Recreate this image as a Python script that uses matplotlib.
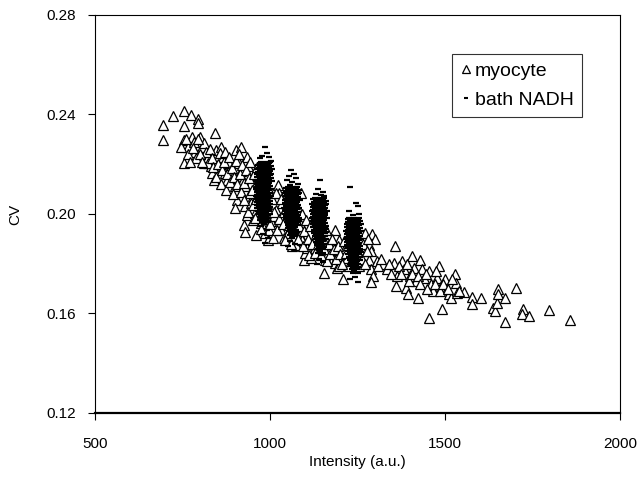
import matplotlib
matplotlib.use("Agg")
import matplotlib.pyplot as plt
from matplotlib.lines import Line2D

plt.rcParams['font.family'] = ['Liberation Sans', 'DejaVu Sans']

# ---------------- data ----------------
myocyte_pts = [
    (693, 0.2358), (693, 0.2298), (724, 0.2394), (753, 0.2414), (753, 0.2354),
    (775, 0.2397), (793, 0.2382), (793, 0.2365), (753, 0.2298), (753, 0.2204),
    (766, 0.2271), (777, 0.2311), (783, 0.2291), (786, 0.2251), (789, 0.2224),
    (800, 0.2311), (806, 0.2271), (843, 0.2325), (812, 0.2204), (824, 0.2231),
    (830, 0.2191), (835, 0.2164), (841, 0.2138), (847, 0.2258), (859, 0.2271),
    (865, 0.2231), (865, 0.2191), (870, 0.2164), (876, 0.2138), (882, 0.2204),
    (888, 0.2178), (894, 0.2151), (899, 0.2111), (903, 0.2258), (917, 0.2271),
    (911, 0.2204), (917, 0.2171), (923, 0.2138), (929, 0.2111), (934, 0.2231),
    (938, 0.2191), (905, 0.2057), (899, 0.2024), (929, 0.2031), (934, 0.1997),
    (926, 0.1957), (929, 0.1928), (961, 0.1917), (952, 0.2071), (958, 0.2111),
    (964, 0.2164), (943, 0.2084), (947, 0.2044), (958, 0.2004), (952, 0.1977),
    (975, 0.1964), (987, 0.1924), (993, 0.1897), (998, 0.1937), (1004, 0.1971),
    (1010, 0.1991), (1016, 0.2017), (1022, 0.2117), (1027, 0.2084), (1033, 0.2044),
    (1033, 0.1991), (1031, 0.1937), (1039, 0.1904), (1045, 0.1964), (1051, 0.1924),
    (1062, 0.1870), (1074, 0.1877), (1086, 0.1917), (1092, 0.1897), (1086, 0.1964),
    (1089, 0.2084), (1096, 0.1817), (1100, 0.1844), (1106, 0.1864), (1118, 0.1824),
    (1129, 0.1864), (1138, 0.1844), (1153, 0.1764), (1156, 0.1817), (1167, 0.1844),
    (1173, 0.1864), (1179, 0.1824), (1185, 0.1804), (1191, 0.1784), (1196, 0.1790),
    (1208, 0.1737), (1191, 0.1831), (1185, 0.1937), (1196, 0.1897), (1214, 0.1864),
    (1220, 0.1824), (1226, 0.1790), (1272, 0.1924), (1292, 0.1920), (1301, 0.1900),
    (1283, 0.1877), (1289, 0.1850), (1283, 0.1817), (1289, 0.1777), (1295, 0.1750),
    (1289, 0.1727), (1306, 0.1810), (1324, 0.1797), (1333, 0.1777), (1357, 0.1870),
    (1354, 0.1804), (1362, 0.1750), (1359, 0.1710), (1377, 0.1810), (1383, 0.1777),
    (1389, 0.1704), (1394, 0.1677), (1400, 0.1750), (1406, 0.1830), (1412, 0.1784),
    (1418, 0.1730), (1424, 0.1664), (1429, 0.1817), (1435, 0.1777), (1441, 0.1744),
    (1453, 0.1770), (1455, 0.1581), (1459, 0.1717), (1465, 0.1690), (1476, 0.1744),
    (1482, 0.1790), (1488, 0.1710), (1491, 0.1619), (1499, 0.1737), (1505, 0.1697),
    (1511, 0.1677), (1517, 0.1664), (1529, 0.1757), (1532, 0.1724), (1535, 0.1684),
    (1555, 0.1686), (1578, 0.1667), (1578, 0.1637), (1604, 0.1661), (1636, 0.1624),
    (1644, 0.1610), (1648, 0.1644), (1652, 0.1697), (1652, 0.1677), (1672, 0.1661),
    (1672, 0.1566), (1702, 0.1702), (1724, 0.1617), (1720, 0.1597), (1741, 0.1590),
    (1796, 0.1613), (1858, 0.1574),
    (812, 0.2285), (818, 0.2250), (822, 0.2205), (828, 0.2260), (835, 0.2225),
    (838, 0.2190), (845, 0.2150), (852, 0.2200), (856, 0.2245), (860, 0.2120),
    (862, 0.2175), (868, 0.2210), (872, 0.2250), (875, 0.2095), (878, 0.2160),
    (884, 0.2230), (886, 0.2130), (890, 0.2185), (895, 0.2080), (897, 0.2150),
    (902, 0.2215), (906, 0.2120), (910, 0.2240), (914, 0.2160), (918, 0.2090),
    (921, 0.2195), (925, 0.2055), (927, 0.2125), (932, 0.2175), (936, 0.2010),
    (940, 0.2145), (944, 0.2210), (948, 0.2095), (950, 0.2035), (955, 0.2160),
    (958, 0.1985), (961, 0.2060), (963, 0.2190), (967, 0.2120), (970, 0.2020),
    (973, 0.1940), (978, 0.2080), (982, 0.2150), (985, 0.1995), (990, 0.2040),
    (995, 0.2105), (1000, 0.1960), (1005, 0.2060), (1008, 0.1905), (1012, 0.2010),
    (1018, 0.2085), (1020, 0.1935), (1025, 0.1980), (1030, 0.2060), (1036, 0.1960),
    (1040, 0.2010), (1044, 0.1895), (1048, 0.2040), (1053, 0.1955), (1058, 0.2000),
    (1060, 0.1880), (1064, 0.2050), (1068, 0.1930), (1072, 0.1985), (1078, 0.2030),
    (1080, 0.1900), (1084, 0.1950), (1090, 0.2000), (1095, 0.1870), (1098, 0.1930),
    (1102, 0.1975), (1108, 0.1900), (1112, 0.1835), (1115, 0.1950), (1120, 0.1880),
    (1125, 0.1985), (1128, 0.1845), (1132, 0.1920), (1136, 0.1880), (1142, 0.1960),
    (1145, 0.1835), (1150, 0.1900), (1155, 0.1860), (1160, 0.1935), (1163, 0.1810),
    (1168, 0.1880), (1172, 0.1840), (1176, 0.1900), (1182, 0.1860), (1188, 0.1820),
    (1194, 0.1870), (1200, 0.1840), (1205, 0.1800), (1210, 0.1890), (1216, 0.1845),
    (1222, 0.1875), (1230, 0.1810), (1236, 0.1860), (1242, 0.1830), (1248, 0.1880),
    (1254, 0.1790), (1258, 0.1850), (1262, 0.1820), (1266, 0.1880), (1270, 0.1800),
    (1276, 0.1850), (1280, 0.1900), (1310, 0.1790), (1318, 0.1820), (1340, 0.1800),
    (1345, 0.1760), (1370, 0.1790), (1375, 0.1760), (1392, 0.1800), (1398, 0.1730),
    (1405, 0.1760), (1422, 0.1750), (1430, 0.1720), (1445, 0.1760), (1448, 0.1700),
    (1470, 0.1720), (1474, 0.1770), (1485, 0.1690), (1495, 0.1720), (1508, 0.1700),
    (1520, 0.1740), (1540, 0.1690),
    (745, 0.2270), (760, 0.2300), (765, 0.2240), (770, 0.2210), (780, 0.2265),
    (795, 0.2300), (800, 0.2240), (805, 0.2210),
]

# bath NADH clusters: rows of (CV, [intensities at that CV])
bath1_rows = [
    (0.2270, [985]), (0.2245, [990]), (0.2235, [978]), (0.2228, [996]),
    (0.2225, [972]), (0.2215, [1002]),
    (0.2210, [975, 990, 1000]), (0.2204, [970, 984, 998]), (0.2198, [966, 980, 995]),
    (0.2192, [972, 988, 1004]), (0.2186, [968, 982, 997]), (0.2180, [964, 978, 992, 1005]),
    (0.2174, [970, 986, 1000]), (0.2168, [966, 981, 996]), (0.2162, [962, 976, 990, 1004]),
    (0.2156, [968, 984, 999]), (0.2150, [964, 979, 994]), (0.2144, [970, 986, 1002]),
    (0.2138, [965, 980, 996]), (0.2132, [961, 975, 990, 1005]), (0.2126, [968, 983, 998]),
    (0.2120, [963, 978, 993]), (0.2114, [969, 985, 1001]), (0.2108, [964, 980, 995]),
    (0.2102, [960, 975, 990, 1004]), (0.2096, [967, 982, 997]), (0.2090, [962, 977, 992]),
    (0.2084, [968, 984, 1000]), (0.2078, [963, 979, 994]), (0.2072, [959, 974, 989, 1003]),
    (0.2066, [966, 981, 996]), (0.2060, [961, 976, 991]), (0.2054, [967, 983, 999]),
    (0.2048, [962, 978, 993]), (0.2042, [968, 984, 1000]), (0.2036, [963, 979, 995]),
    (0.2030, [969, 985, 1001]), (0.2024, [964, 980, 996]), (0.2018, [970, 986]),
    (0.2012, [966, 982, 998]), (0.2006, [972, 988]), (0.2000, [968, 984, 1000]),
    (0.1994, [974, 990]), (0.1988, [970, 986]), (0.1982, [976, 992]),
    (0.1976, [972, 988]), (0.1968, [978, 994]), (0.1960, [983]), (0.1950, [975]),
    (0.1935, [990]), (0.1920, [980]), (0.1905, [995]), (0.1885, [985]),
]
bath2_rows = [
    (0.2175, [1060]), (0.2162, [1068]), (0.2152, [1054]), (0.2143, [1074]),
    (0.2135, [1049]), (0.2128, [1064]), (0.2120, [1080]), (0.2117, [1057]),
    (0.2110, [1050, 1065, 1078]), (0.2104, [1046, 1060, 1074]), (0.2098, [1052, 1067, 1082]),
    (0.2092, [1047, 1061, 1076]), (0.2086, [1043, 1056, 1070, 1084]), (0.2080, [1049, 1064, 1079]),
    (0.2074, [1045, 1059, 1073]), (0.2068, [1051, 1066, 1081]), (0.2062, [1046, 1061, 1076]),
    (0.2056, [1042, 1056, 1070, 1085]), (0.2050, [1048, 1063, 1078]), (0.2044, [1044, 1058, 1073]),
    (0.2038, [1050, 1065, 1080]), (0.2032, [1045, 1060, 1075]), (0.2026, [1041, 1055, 1069, 1084]),
    (0.2020, [1047, 1062, 1077]), (0.2014, [1043, 1057, 1072]), (0.2008, [1049, 1064, 1079]),
    (0.2002, [1044, 1059, 1074]), (0.1996, [1050, 1066, 1081]), (0.1990, [1046, 1061, 1076]),
    (0.1984, [1052, 1067, 1082]), (0.1978, [1047, 1062, 1077]), (0.1972, [1053, 1068, 1083]),
    (0.1966, [1048, 1063, 1078]), (0.1960, [1054, 1069]), (0.1954, [1050, 1065, 1080]),
    (0.1948, [1056, 1071]), (0.1942, [1052, 1067]), (0.1936, [1058, 1073]),
    (0.1930, [1054, 1069]), (0.1922, [1060, 1075]), (0.1914, [1056, 1070]),
    (0.1905, [1063]), (0.1890, [1058]), (0.1878, [1072]), (0.1870, [1050]),
]
bath3_rows = [
    (0.2137, [1143]), (0.2100, [1136]), (0.2090, [1150]), (0.2082, [1130]),
    (0.2075, [1145]), (0.2072, [1155]),
    (0.2066, [1128, 1142, 1155]), (0.2060, [1124, 1138, 1151]), (0.2054, [1130, 1145, 1159]),
    (0.2048, [1125, 1139, 1153]), (0.2042, [1121, 1134, 1148, 1161]), (0.2036, [1127, 1142, 1156]),
    (0.2030, [1123, 1137, 1151]), (0.2024, [1129, 1144, 1158]), (0.2018, [1124, 1139, 1153]),
    (0.2012, [1120, 1134, 1148, 1162]), (0.2006, [1126, 1141, 1156]), (0.2000, [1122, 1136, 1151]),
    (0.1994, [1128, 1143, 1158]), (0.1988, [1123, 1138, 1153]), (0.1982, [1119, 1133, 1147, 1162]),
    (0.1976, [1125, 1140, 1155]), (0.1970, [1121, 1135, 1150]), (0.1964, [1127, 1142, 1157]),
    (0.1958, [1122, 1137, 1152]), (0.1952, [1128, 1144, 1159]), (0.1946, [1124, 1139, 1154]),
    (0.1940, [1130, 1145, 1160]), (0.1934, [1125, 1140, 1155]), (0.1928, [1131, 1146, 1161]),
    (0.1922, [1126, 1141, 1156]), (0.1916, [1132, 1147]), (0.1910, [1128, 1143, 1158]),
    (0.1904, [1134, 1149]), (0.1898, [1130, 1145, 1159]), (0.1892, [1136, 1151]),
    (0.1886, [1132, 1147]), (0.1880, [1138, 1153]), (0.1874, [1134, 1149]),
    (0.1868, [1140, 1155]), (0.1860, [1136, 1150]), (0.1852, [1142]),
    (0.1844, [1138, 1152]), (0.1835, [1145]), (0.1820, [1140]), (0.1808, [1150]),
    (0.1800, [1133]),
]
bath4_rows = [
    (0.2108, [1228]), (0.2045, [1245]), (0.2033, [1250]), (0.2012, [1226]),
    (0.2002, [1254]), (0.1995, [1238]),
    (0.1985, [1226, 1240, 1253]), (0.1979, [1222, 1236, 1250]), (0.1973, [1228, 1243, 1257]),
    (0.1967, [1223, 1237, 1251]), (0.1961, [1219, 1232, 1246, 1259]), (0.1955, [1225, 1240, 1254]),
    (0.1949, [1221, 1235, 1249]), (0.1943, [1227, 1242, 1256]), (0.1937, [1222, 1237, 1251]),
    (0.1931, [1218, 1232, 1246, 1260]), (0.1925, [1224, 1239, 1254]), (0.1919, [1220, 1234, 1249]),
    (0.1913, [1226, 1241, 1256]), (0.1907, [1221, 1236, 1251]), (0.1901, [1217, 1231, 1245, 1260]),
    (0.1895, [1223, 1238, 1253]), (0.1889, [1219, 1233, 1248]), (0.1883, [1225, 1240, 1255]),
    (0.1877, [1220, 1235, 1250]), (0.1871, [1226, 1242, 1257]), (0.1865, [1222, 1237, 1252]),
    (0.1859, [1228, 1243, 1258]), (0.1853, [1223, 1238, 1253]), (0.1847, [1229, 1244, 1259]),
    (0.1841, [1224, 1239, 1254]), (0.1835, [1230, 1245]), (0.1829, [1226, 1241, 1256]),
    (0.1823, [1232, 1247]), (0.1817, [1228, 1243, 1257]), (0.1811, [1234, 1249]),
    (0.1805, [1230, 1245]), (0.1799, [1236, 1251]), (0.1793, [1232, 1247]),
    (0.1787, [1238, 1252]), (0.1779, [1234, 1248]), (0.1771, [1240]),
    (0.1763, [1236, 1250]), (0.1748, [1242]), (0.1738, [1228]), (0.1725, [1252]),
]

x_ticks = [500, 1000, 1500, 2000]
y_ticks = [0.12, 0.16, 0.20, 0.24, 0.28]
y_tick_labels = ["0.12", "0.16", "0.20", "0.24", "0.28"]

# ---------------- figure ----------------
fig = plt.figure(figsize=(6.39, 4.86), dpi=100)
ax = fig.add_axes([95 / 639, 1 - 413 / 486, 525 / 639, 398 / 486])

mx = [p[0] for p in myocyte_pts]
my = [p[1] for p in myocyte_pts]
ax.plot(mx, my, linestyle='none', marker='^', markersize=7.4,
        markerfacecolor='white', markeredgecolor='black', markeredgewidth=0.9,
        zorder=2)

bx, by = [], []
for rows in (bath1_rows, bath2_rows, bath3_rows, bath4_rows):
    for yv, xs in rows:
        for xv in xs:
            bx.append(xv)
            by.append(yv)
ax.plot(bx, by, linestyle='none', marker='_', markersize=4.6,
        color='black', markeredgewidth=1.6, zorder=3)

ax.set_xlim(500, 2000)
ax.set_ylim(0.12, 0.28)
ax.set_xticks(x_ticks)
ax.set_xticklabels([str(t) for t in x_ticks])
ax.set_yticks(y_ticks)
ax.set_yticklabels(y_tick_labels)
ax.tick_params(axis='both', direction='out', length=5, width=0.8,
               labelsize=11, colors='black')
ax.tick_params(axis='x', pad=12)
ax.tick_params(axis='y', pad=9)

for side in ('left', 'right', 'top'):
    ax.spines[side].set_linewidth(0.8)
ax.spines['bottom'].set_linewidth(1.6)

ax.set_xlabel('Intensity (a.u.)', fontsize=11, labelpad=3)
ax.set_ylabel('CV', fontsize=11, labelpad=17)

handles = [
    Line2D([], [], linestyle='none', marker='^', markersize=5.5,
           markerfacecolor='white', markeredgecolor='black', markeredgewidth=0.9),
    Line2D([], [], linestyle='none', marker='_', markersize=3.5,
           color='black', markeredgewidth=1.5),
]
leg = ax.legend(handles, ['myocyte', 'bath NADH'], loc='upper right',
                bbox_to_anchor=(0.928, 0.902), borderaxespad=0,
                fontsize=14, frameon=True, fancybox=False,
                handlelength=0.61, handletextpad=0.16, borderpad=0.42,
                labelspacing=0.6)
leg.get_frame().set_edgecolor('black')
leg.get_frame().set_linewidth(0.8)

fig.savefig('out.png', dpi=100)
